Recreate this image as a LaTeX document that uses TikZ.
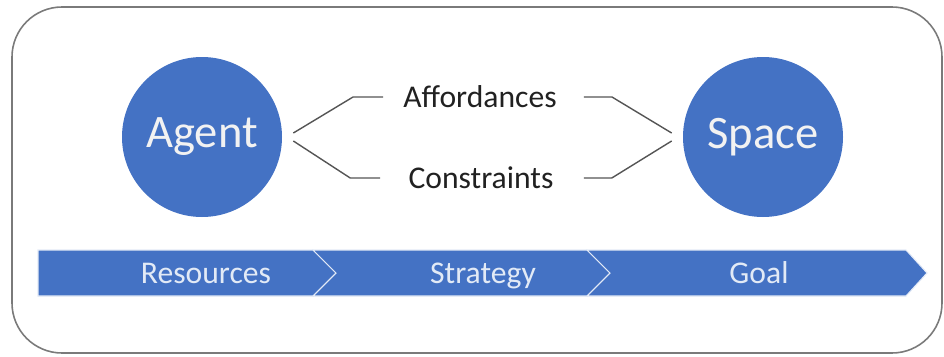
\documentclass[tikz,border=0pt]{standalone}
\usepackage{fontspec}
\setmainfont{Carlito}
\usepackage{xcolor}
\definecolor{officeblue}{HTML}{4472C4}
\definecolor{framegray}{HTML}{7A7A7A}
\definecolor{linkgray}{HTML}{555555}
\definecolor{barwhite}{HTML}{E2EAF6}
\usepackage{tikz}
\usetikzlibrary{positioning, calc}

\begin{document}
\begin{tikzpicture}[
        actor/.style={circle, fill=officeblue, minimum size=3.2cm, inner sep=0pt, text=white!95!black, font=\fontsize{26.5}{30}\selectfont},
        term/.style={inner sep=0pt, text=black!87, font=\fontsize{18}{21}\selectfont},
        link/.style={draw=linkgray, line width=0.8pt},
        chevron/.style={fill=officeblue, draw=white!85!officeblue, line width=0.6pt, line join=miter},
        phase/.style={inner sep=0pt, anchor=base, text=barwhite, font=\fontsize{18}{21}\selectfont}
    ]
        \useasboundingbox (0,0) rectangle (18.88,7.12);

        % Outer frame
        \draw[framegray, line width=0.9pt, rounded corners=1cm] (0.24,0.06) rectangle (18.84,6.98);

        % Agent and space
        \node[actor] (agent) at (4.04,4.38) {Agent};
        \node[actor] (space) at (15.26,4.38) {Space};

        % What lies between them
        \node[term] (aff) at (9.6,5.18) {Affordances};
        \node[term] (cons) at (9.62,3.56) {Constraints};

        % Brackets joining both sides
        \draw[link] ([shift={(0.22,0.08)}]agent.east) -- ([xshift=-1cm]aff.west) -- ([xshift=-0.4cm]aff.west);
        \draw[link] ([shift={(0.22,-0.08)}]agent.east) -- ([xshift=-1.16cm]cons.west) -- ([xshift=-0.56cm]cons.west);
        \draw[link] ([xshift=0.54cm]aff.east) -- ([xshift=1.1cm]aff.east) -- ([shift={(-0.22,0.08)}]space.west);
        \draw[link] ([xshift=0.6cm]cons.east) -- ([xshift=1.16cm]cons.east) -- ([shift={(-0.22,-0.08)}]space.west);

        % Process bar
        \draw[chevron] (0.76,2.12) -- (6.26,2.12) -- (6.72,1.66) -- (6.26,1.2) -- (0.76,1.2) -- cycle;
        \draw[chevron] (6.26,2.12) -- (11.74,2.12) -- (12.2,1.66) -- (11.74,1.2) -- (6.26,1.2) -- (6.72,1.66) -- cycle;
        \draw[chevron] (11.74,2.12) -- (18.12,2.12) -- (18.54,1.66) -- (18.12,1.2) -- (11.74,1.2) -- (12.2,1.66) -- cycle;

        \node[phase] (res) at (4.12,1.46) {Resources};
        \node[phase] (strat) at (9.66,1.46) {Strategy};
        \node[phase] (goal) at (15.18,1.46) {Goal};
    \end{tikzpicture}
\end{document}
